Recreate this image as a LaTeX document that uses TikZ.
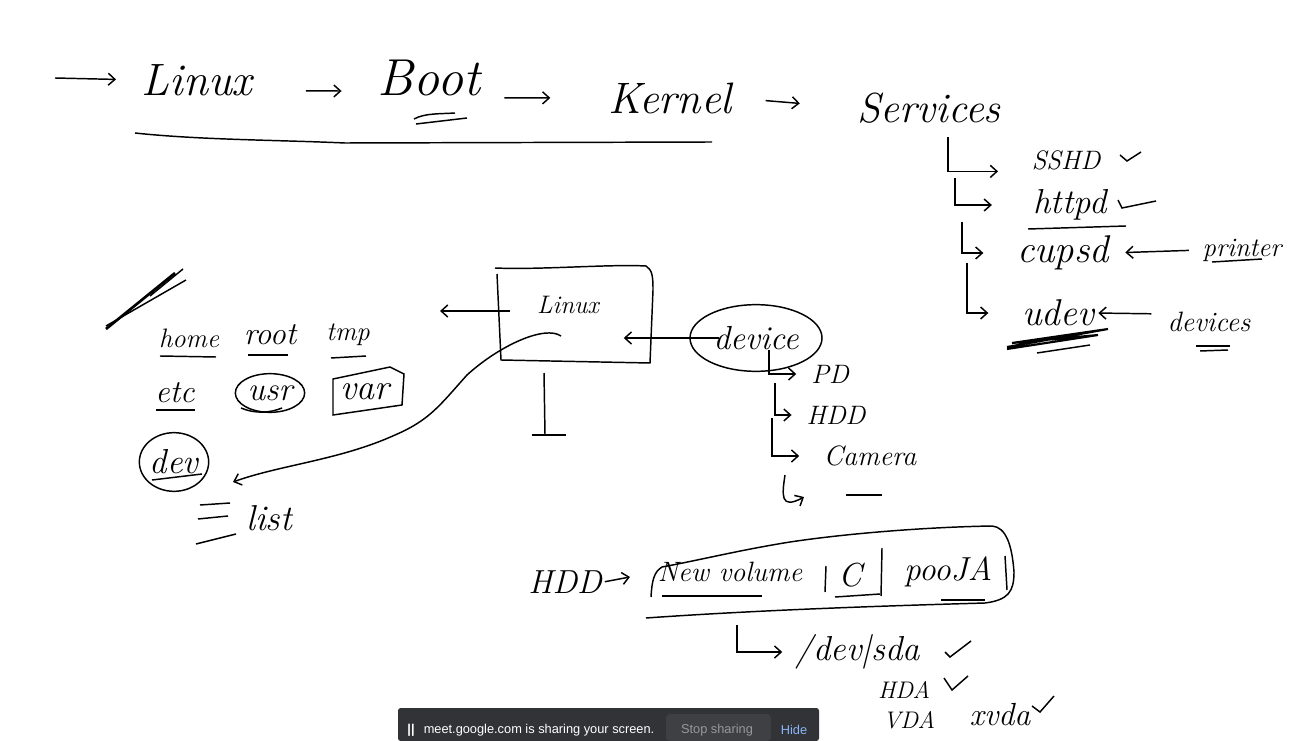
\documentclass[tikz,border=0pt]{standalone}
\usepackage{fontspec}
\newfontfamily\barfont{Liberation Sans}
\usetikzlibrary{shapes.geometric,arrows.meta}
\definecolor{barbg}{RGB}{50,51,54}
\definecolor{barbtn}{RGB}{63,64,67}
\definecolor{bargray}{RGB}{150,152,155}
\definecolor{barblue}{RGB}{138,180,248}
\tikzset{
  every picture/.style={line width=1.1pt},
  hand/.style={inner sep=0.75pt,font=\itshape\fontsize{#1}{#1}\selectfont},
  handarrow/.style={-{Straight Barb[length=5pt,width=9pt]},line width=1.1pt},
  ring/.style={draw,ellipse,inner sep=0pt}
}

\begin{document}
\begin{tikzpicture}[x=0.75pt,y=0.75pt,yscale=-1,xscale=1]
\useasboundingbox (0,0) rectangle (1301,741);

% Text Node
\node[hand=34] (linuxtitle) at (197,80) {Linux};
\node[hand=39] (boot) at (429,78) {Boot};
\node[hand=33] (kernel) at (670,98) {Kernel};
\node[hand=31.5] (services) at (929,108) {Services};
\node[hand=20] (sshd) at (1066,160) {SSHD};
\node[hand=26] (httpd) at (1070,205) {httpd};
\node[hand=29] (cupsd) at (1063,253) {cupsd};
\node[hand=28] (udev) at (1058,313) {udev};
\node[hand=20] (printer) at (1242,250) {printer};
\node[hand=21] (devices) at (1209,322) {devices};

\node[hand=19] (linuxsmall) at (568,305) {Linux};
\node[hand=25,ring,minimum width=99pt,minimum height=50pt] (device) at (756,338) {device};
\node[hand=20] (pd) at (830,374) {PD};
\node[hand=20] (hdd) at (836,415) {HDD};
\node[hand=21] (camera) at (870,456) {Camera};

\node[hand=20] (home) at (189,338) {home};
\node[hand=24] (root) at (270,335) {root};
\node[hand=20] (tmp) at (348,335) {tmp};
\node[hand=24] (etc) at (175,393) {etc};
\node[hand=25,ring,minimum width=52pt,minimum height=29pt] (usr) at (270,393) {usr};
\node[hand=27] (var) at (365,392) {var};
\node[hand=26,ring,minimum width=52pt,minimum height=44pt] (dev) at (174,462) {dev};
\node[hand=27] (list) at (269,518) {list};

\node[hand=25] (hddmain) at (565,582) {HDD};
\node[hand=21] (volume) at (730,572) {New volume};
\node[hand=25] (cdrive) at (850,575) {C};
\node[hand=25] (pooja) at (948,572) {pooJA};
\node[hand=26] (sda) at (858,652) {/dev|sda};
\node[hand=18] (hda) at (904,690) {HDA};
\node[hand=18] (vda) at (909,720) {VDA};
\node[hand=24] (xvda) at (1000,715) {xvda};

% Linux box, only the anchors of it
\node[minimum width=116pt,minimum height=72pt,inner sep=0pt] (rootbox) at (575,315) {};

%Free ends
\coordinate (startin) at (55,78);
\coordinate (svcone) at (948,137);
\coordinate (svctwo) at (955,178);
\coordinate (svcthree) at (962,222);
\coordinate (svcfour) at (967,263);
\coordinate (devone) at (769,350);
\coordinate (devtwo) at (775,383);
\coordinate (devthree) at (772,418);
\coordinate (devfour) at (785,475);
\coordinate (devfourend) at (804,497);
\coordinate (voldown) at (737,625);
\coordinate (leftout) at (440,311);
\coordinate (inside) at (561,336);
\coordinate (listtip) at (233,482);
\coordinate (standtop) at (544,373);
\coordinate (standfoot) at (545,435);

%Top chain
\draw[handarrow,shorten >=18pt] (startin) -- (linuxtitle.west);
\draw[handarrow,shorten <=39pt,shorten >=26pt] ([yshift=-5pt]linuxtitle.south east) -- ([yshift=-5pt]boot.south west);
\draw[handarrow,shorten <=17pt,shorten >=42pt] (boot.south east) -- (kernel.west);
\draw[handarrow,shorten <=24pt,shorten >=42pt] (kernel.east) -- (services.west);

%Services list
\draw[handarrow,shorten >=24pt] (svcone) |- (sshd.south west);
\draw[handarrow,shorten >=30pt] (svctwo) |- (httpd.west);
\draw[handarrow,shorten >=24pt] (svcthree) |- (cupsd.west);
\draw[handarrow,shorten >=24pt] (svcfour) |- (udev.west);
\draw[handarrow,shorten <=9pt,shorten >=11pt] (printer.west) -- (cupsd.east);
\draw[handarrow,shorten <=11pt,shorten >=2pt] ([yshift=-6pt]devices.west) -- (udev.east);

%Device list
\draw[handarrow,shorten >=10pt] (devone) |- (pd.west);
\draw[handarrow,shorten >=10pt] (devtwo) |- (hdd.west);
\draw[handarrow,shorten >=17pt] (devthree) |- (camera.west);
\draw[handarrow] (devfour) .. controls (782,495) and (780,510) .. (devfourend);
\draw[handarrow,shorten <=-22pt,shorten >=-22pt] (device.west) -- (rootbox.east |- device.west);

%Linux box arrows
\draw[handarrow] ([xshift=10pt,yshift=-3pt]rootbox.west) -- (leftout);
\draw[handarrow] (inside) .. controls (545,325) and (500,345) .. (467,375) .. controls (440,405) and (430,420) .. (395,435) .. controls (340,460) and (280,465) .. (listtip);
\draw (standtop) -- (standfoot);
\draw ([xshift=-10pt]standfoot) -- ([xshift=16pt]standfoot);

%Volume
\draw[handarrow,shorten <=1pt,shorten >=20pt] (hddmain.east) -- (volume.west);
\draw[handarrow,shorten >=9pt] (voldown) |- (sda.west);

%Shape: rough outline of the Linux box
\draw (495,268) .. controls (540,270) and (610,264) .. (646,266) .. controls (652,270) and (653,275) .. (653,290) -- (650,363) -- (501,360) -- (497,274);
%Shape: var box
\draw (333,379) -- (390,367) -- (404,374) -- (402,405) -- (333,415) -- cycle;
%Shape: volume outline
\draw (651,597) .. controls (652,580) and (654,572) .. (662,567) .. controls (700,560) and (740,550) .. (790,542) .. controls (850,533) and (930,527) .. (992,526) .. controls (1006,527) and (1012,545) .. (1014,572) .. controls (1014,592) and (1008,600) .. (985,603) .. controls (880,606) and (760,610) .. (646,618);
%Volume dividers
\draw (826,566) -- (825,592);
\draw (882,548) -- (881,596);
\draw (1005,556) -- (1007,590);

%Underlines
\draw (135,133) .. controls (200,140) and (280,140) .. (345,143) -- (712,142);
\draw (414,119) .. controls (425,113) and (440,114) .. (455,113);
\draw (416,124) -- (467,118);
\draw (1028,229) -- (1126,226);
\draw (1212,262) -- (1262,259);
\draw (1196,346) -- (1230,346);
\draw (1200,351) -- (1228,350);
\draw (160,356) -- (216,357);
\draw (248,355) -- (288,355);
\draw (331,358) -- (366,356);
\draw (156,410) -- (195,410);
\draw (152,480) -- (202,474);
\draw (241,408) .. controls (255,414) and (270,413) .. (282,408);
\draw (662,596) -- (762,596);
\draw (835,597) -- (880,594);
\draw (941,600) -- (985,600);
\draw (200,505) -- (230,503);
\draw (198,519) -- (228,516);
\draw (196,544) -- (236,534);
\draw (846,495) -- (882,495);
%Scribbles
\draw[line width=1.6pt] (1007,347) -- (1108,329) -- (1012,343) -- (1098,335) -- (1007,349);
\draw (1037,353) -- (1090,345);
\draw[line width=2pt] (106,329) -- (175,273);
\draw (106,326) -- (186,280);
\draw (150,296) -- (183,269);

%Ticks
\draw (1120,155) -- (1127,161) -- (1141,152);
\draw (1118,200) -- (1122,208) -- (1156,201);
\draw (945,652) -- (950,657) -- (971,641);
\draw (944,678) -- (952,690) -- (968,676);
\draw (1032,706) -- (1040,712) -- (1054,696);

%Sharing bar
\fill[barbg,rounded corners=2] (398,741) -- (398,708) -- (819,708) -- (819,741) -- cycle;
\fill[barbtn,rounded corners=3] (666,714) rectangle (771,741);
\node[text=white,font=\barfont\fontsize{9.6}{11}\selectfont,inner sep=0pt] (sharetext) at (539,730) {meet.google.com is sharing your screen.};
\node[text=white,font=\barfont\fontsize{9.6}{11}\selectfont\bfseries,inner sep=0pt] (pausebars) at (411,730) {||};
\node[text=bargray,font=\barfont\fontsize{9.6}{11}\selectfont,inner sep=0pt] (stopshare) at (717,730) {Stop sharing};
\node[text=barblue,font=\barfont\fontsize{9.6}{11}\selectfont,inner sep=0pt] (hidebar) at (794,730) {Hide};

\end{tikzpicture}
\end{document}
